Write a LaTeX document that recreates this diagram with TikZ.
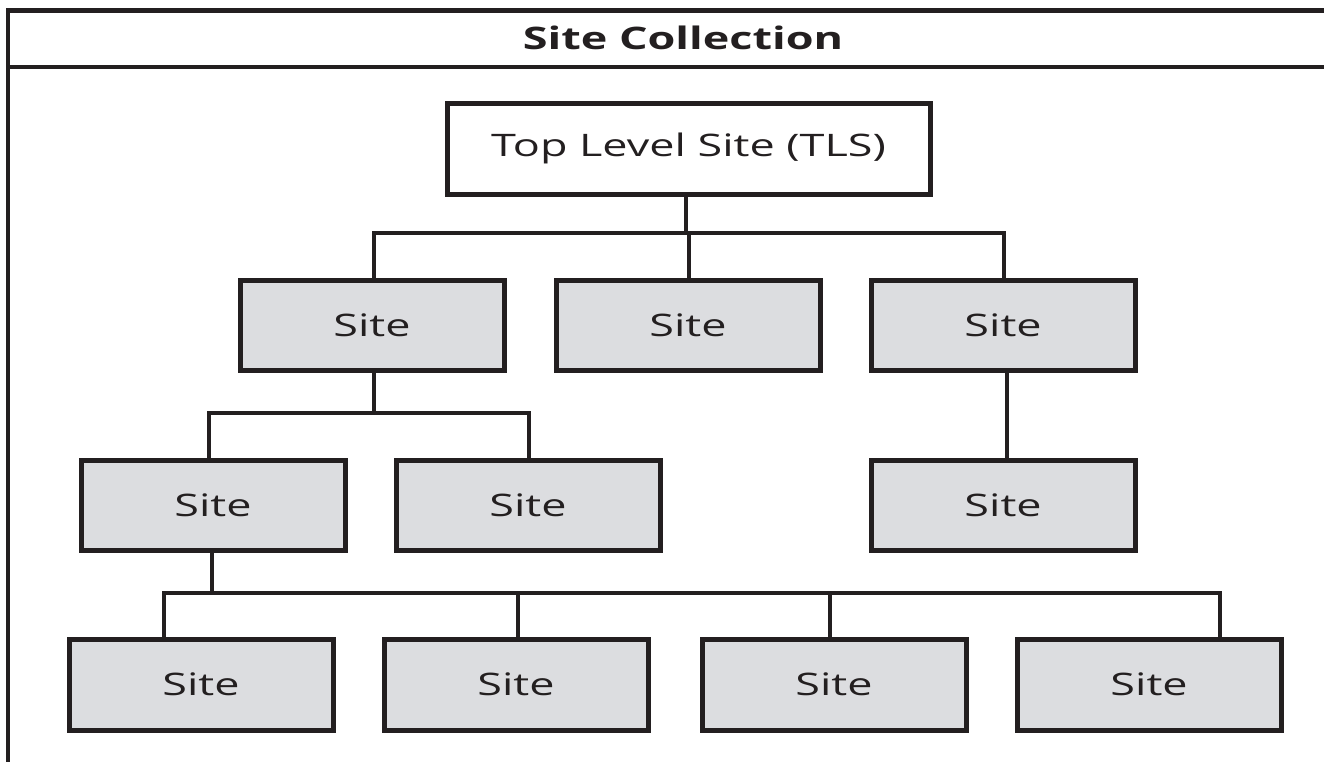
\documentclass[tikz,border=0pt]{standalone}
\usepackage{fontspec}
\setmainfont{Open Sans}[FakeStretch=1.45]
\definecolor{ink}{RGB}{35,31,32}
\definecolor{boxfill}{RGB}{220,221,224}
\begin{document}
\begin{tikzpicture}[x=1pt,y=-1pt,
  frameline/.style={draw=ink,line width=4.5pt},
  sitebox/.style={draw=ink,line width=5pt,fill=boxfill,minimum width=264pt,minimum height=90pt,inner sep=0pt,font=\fontsize{31}{36}\selectfont,text=ink},
  tlsbox/.style={sitebox,fill=white,minimum width=483pt,minimum height=91pt},
  conn/.style={draw=ink,line width=4.5pt,line join=miter}]
\useasboundingbox (0,0) rectangle (1324,761);
% frame
\draw[frameline,line join=miter] (1330,10.5) -- (8,10.5) -- (8,770);
\draw[frameline] (8,67) -- (1330,67);
\node[font=\bfseries\fontsize{31}{36}\selectfont,text=ink,inner sep=0pt] (title) at (683,38) {Site Collection};
% nodes
\node[tlsbox] (tls) at (688.5,148.5) {Top Level Site (TLS)};
\node[sitebox] (a1) at (372,325) {Site};
\node[sitebox] (a2) at (688,325) {Site};
\node[sitebox] (a3) at (1003,325) {Site};
\node[sitebox] (c1) at (213,505) {Site};
\node[sitebox] (c2) at (528,505) {Site};
\node[sitebox] (c3) at (1003,505) {Site};
\node[sitebox,minimum height=91pt] (e1) at (201,684.5) {Site};
\node[sitebox,minimum height=91pt] (e2) at (516,684.5) {Site};
\node[sitebox,minimum height=91pt] (e3) at (834,684.5) {Site};
\node[sitebox,minimum height=91pt] (e4) at (1149,684.5) {Site};
% bus coordinates
\coordinate (p0) at (686,235);
\coordinate (b1l) at (374,233);
\coordinate (b1m) at (689,233);
\coordinate (b1r) at (1004,233);
\coordinate (p1) at (374,415);
\coordinate (b2l) at (209,413);
\coordinate (b2r) at (529,413);
\coordinate (v3) at (1007,0);
\coordinate (p2) at (212,595);
\coordinate (b3a) at (164,593);
\coordinate (b3b) at (518,593);
\coordinate (b3c) at (830,593);
\coordinate (b3d) at (1220,593);
% connectors
\draw[conn] (tls.south -| p0) -- (p0);
\draw[conn] (a1.north -| b1l) -- (b1l) -- (b1r) -- (a3.north -| b1r);
\draw[conn] (b1m) -- (a2.north -| b1m);
\draw[conn] (a1.south -| p1) -- (p1);
\draw[conn] (c1.north -| b2l) -- (b2l) -- (b2r) -- (c2.north -| b2r);
\draw[conn] (a3.south -| v3) -- (c3.north -| v3);
\draw[conn] (c1.south -| p2) -- (p2);
\draw[conn] (e1.north -| b3a) -- (b3a) -- (b3d) -- (e4.north -| b3d);
\draw[conn] (b3b) -- (e2.north -| b3b);
\draw[conn] (b3c) -- (e3.north -| b3c);
\end{tikzpicture}
\end{document}
